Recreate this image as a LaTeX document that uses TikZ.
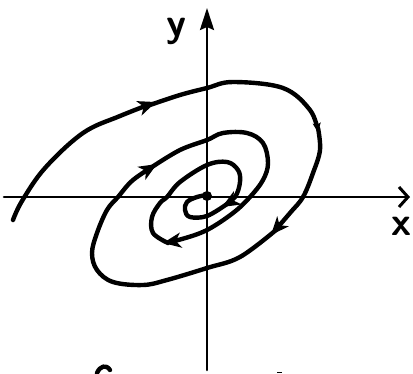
\documentclass[tikz,border=0pt]{standalone}
\usetikzlibrary{arrows.meta}
\begin{document}
\begin{tikzpicture}[x=1pt,y=-1pt,
  axisline/.style={line width=2.6pt,line cap=round},
  spiral/.style={line width=4.4pt,line cap=round,line join=round},
  tip/.style={-{Stealth[length=18pt,width=15pt,inset=5pt]}},
  smalltip/.style={-{Stealth[length=9pt,width=8pt,inset=2pt]}},
  lbl/.style={inner sep=0pt,anchor=base,font=\sffamily\bfseries\fontsize{40}{40}\selectfont}]
\useasboundingbox (0,0) rectangle (413,373);
% axes
\coordinate (xl) at (4,197);
\coordinate (xr) at (410,197);
\coordinate (yb) at (207,370);
\coordinate (yt) at (207,8);
\draw[axisline,-{Straight Barb[length=9pt,width=20pt,line width=3pt]}] (xl) -- (xr);
\draw[axisline,-{Stealth[length=22pt,width=14pt,inset=3pt]}] (yb) -- (yt);
\node[lbl] (ylab) at (176,36) {y};
\node[lbl] (xlab) at (401,235) {x};
% spiral
\draw[spiral,tip] plot[smooth,tension=0.6] coordinates {(13,220) (22,201) (45,168) (83,133) (120,116) (156,102)};
\draw[spiral,smalltip] plot[smooth,tension=0.6] coordinates {(150,105) (180,95) (207,88) (233,82) (283,88) (310,110) (318,132)};
\draw[spiral,tip] plot[smooth,tension=0.6] coordinates {(318,128) (320,150) (313,173) (303,197) (290,213) (271,235)};
\draw[spiral,tip] plot[smooth,tension=0.6] coordinates {(276,230) (240,257) (207,268) (167,280) (143,285) (113,282) (97,270) (92,253) (97,233) (107,210) (118,197) (133,180) (157,164)};
\draw[spiral,tip] plot[smooth,tension=0.6] coordinates {(152,167) (180,150) (207,140) (223,133) (247,133) (263,143) (268,163) (263,180) (250,197) (233,213) (207,230) (182,239) (163,243)};
\draw[spiral,tip] plot[smooth,tension=0.6] coordinates {(168,243) (153,233) (152,217) (160,203) (167,197) (180,182) (207,165) (227,162) (238,170) (240,182) (235,197) (222,207)};
\draw[spiral] plot[smooth,tension=0.6] coordinates {(227,204) (207,216) (190,217) (185,210) (187,202) (197,197) (207,195)};
\node[circle,fill,inner sep=0pt,minimum size=10pt] (o) at (207,196) {};
% cut-off marks at the bottom
\draw[spiral] (97,373) .. controls (100,366) and (106,364) .. (110,370);
\draw[line width=1pt] (277,372) -- (282,372);
\end{tikzpicture}
\end{document}
